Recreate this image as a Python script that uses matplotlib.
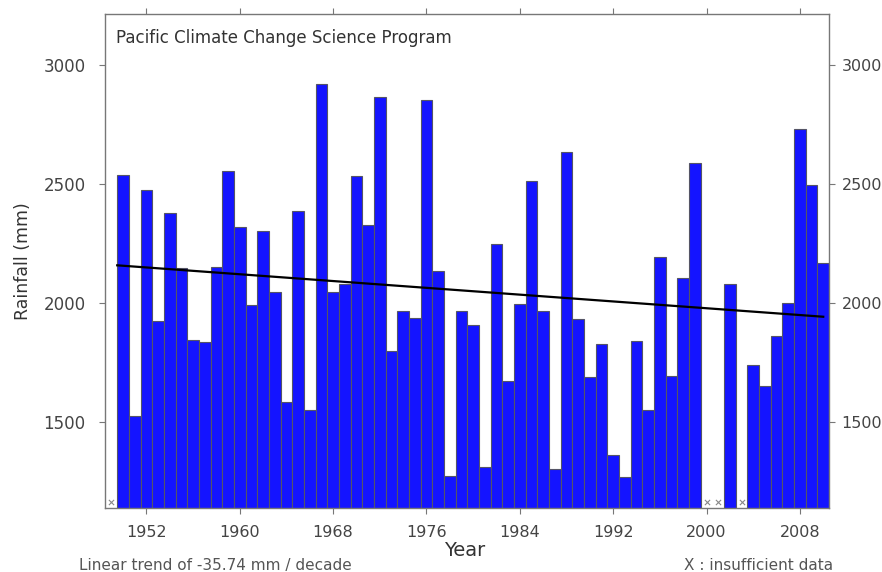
import matplotlib.pyplot as plt
import numpy as np

plt.rcParams['font.family'] = ['DejaVu Sans']

# annual rainfall (mm), years with enough data
years = [1950, 1951, 1952, 1953, 1954, 1955, 1956, 1957, 1958, 1959,
         1960, 1961, 1962, 1963, 1964, 1965, 1966, 1967, 1968, 1969,
         1970, 1971, 1972, 1973, 1974, 1975, 1976, 1977, 1978, 1979,
         1980, 1981, 1982, 1983, 1984, 1985, 1986, 1987, 1988, 1989,
         1990, 1991, 1992, 1993, 1994, 1995, 1996, 1997, 1998, 1999,
         2002, 2004, 2005, 2006, 2007, 2008, 2009, 2010]
rainfall = [2535, 1525, 2473, 1922, 2377, 2145, 1842, 1835, 2150, 2553,
            2317, 1990, 2301, 2043, 1584, 2387, 1548, 2919, 2043, 2077,
            2533, 2328, 2866, 1796, 1965, 1937, 2852, 2134, 1270, 1965,
            1908, 1310, 2246, 1672, 1993, 2511, 1965, 1300, 2634, 1930,
            1687, 1828, 1359, 1265, 1838, 1549, 2194, 1693, 2103, 2587,
            2080, 1736, 1648, 1862, 2000, 2732, 2497, 2165]

# years flagged as insufficient data
missing_years = [1949, 2000, 2001, 2003]

trend_per_decade = -35.74
trend_start, trend_end = 1949.5, 2010
trend_end_value = 1941

ylims = (1137, 3214)
yticks = [1500, 2000, 2500, 3000]

fig = plt.figure(figsize=(8.82, 5.72), dpi=100)
ax = fig.add_axes([0.119, 0.112, 0.821, 0.8635])

ax.bar(years, rainfall, width=1.0, color='#1414ff', edgecolor='#555566',
       linewidth=0.8, zorder=2)

tx = np.array([trend_start, trend_end])
ty = trend_end_value + (tx - trend_end) * trend_per_decade / 10
ax.plot(tx, ty, color='black', linewidth=1.6, zorder=3)

ax.scatter(missing_years, [0.012] * len(missing_years), marker='x',
           s=14, color='#888888', linewidths=0.8,
           transform=ax.get_xaxis_transform(), clip_on=False, zorder=4)

ax.set_xlim(1948.45, 2010.5)
ax.set_ylim(*ylims)
ax.set_xticks(range(1952, 2009, 8))
ax.set_yticks(yticks)

ax.tick_params(axis='both', direction='out', length=4, color='#777777',
               labelcolor='#444444', width=0.8)
ax.tick_params(axis='x', top=True, pad=8, labelsize=11.5)
ax.tick_params(axis='y', pad=10, labelsize=12)
for s in ax.spines.values():
    s.set_color('#777777')
    s.set_linewidth(1.0)

# right-hand copy of the rainfall scale
ax2 = ax.twinx()
ax2.set_ylim(*ylims)
ax2.set_yticks(yticks)
ax2.tick_params(axis='y', direction='out', length=4, color='#777777',
                labelcolor='#444444', width=0.8, pad=5, labelsize=11.5)
for s in ax2.spines.values():
    s.set_visible(False)

ax.set_xlabel('Year', fontsize=14, color='#333333')
ax.xaxis.set_label_coords(0.497, -0.066)
ax.set_ylabel('Rainfall (mm)', fontsize=12.5, color='#333333')
ax.yaxis.set_label_coords(-0.101, 0.5)

ax.text(0.015, 0.97, 'Pacific Climate Change Science Program',
        transform=ax.transAxes, fontsize=12, color='#333333',
        ha='left', va='top')

fig.text(0.09, 0.012, 'Linear trend of -35.74 mm / decade',
         fontsize=11, color='#555555', ha='left', va='center')
fig.text(0.945, 0.012, 'X : insufficient data',
         fontsize=11, color='#555555', ha='right', va='center')

fig.savefig('out.png', dpi=100)
